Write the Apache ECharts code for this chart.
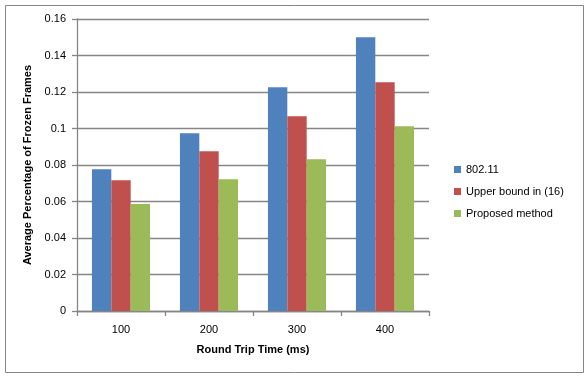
<!DOCTYPE html>
<html><head><meta charset="utf-8">
<script src="https://cdn.jsdelivr.net/npm/echarts@6/dist/echarts.min.js"></script>
<style>html,body{margin:0;padding:0;background:#fff}#c{width:588px;height:378px}</style>
</head><body><div id="c"></div>
<script>
const categories = ['100', '200', '300', '400'];
const seriesNames = ['802.11', 'Upper bound in (16)', 'Proposed method'];
const s80211 = [0.0777, 0.0974, 0.1226, 0.1500];
const sUpper = [0.0716, 0.0875, 0.1067, 0.1253];
const sProposed = [0.0586, 0.0722, 0.0831, 0.1012];
const yTicks = [0, 0.02, 0.04, 0.06, 0.08, 0.1, 0.12, 0.14, 0.16];
const colors = ['#4F81BD', '#C0504D', '#9BBB59'];
const font = 'Liberation Sans';
const gray = '#868686';
const chart = echarts.init(document.getElementById('c'));
const allVals = [s80211, sUpper, sProposed];
chart.setOption({
  animation: false,
  graphic: [{type: 'rect', shape: {x: 5.5, y: 5.5, width: 578, height: 367}, style: {fill: 'none', stroke: gray, lineWidth: 1}}],
  grid: {left: 77, right: 159, top: 19, bottom: 67},
  legend: {
    orient: 'vertical', left: 449, top: 159, itemWidth: 7, itemHeight: 7, itemGap: 11,
    icon: 'rect', data: seriesNames,
    textStyle: {fontFamily: font, fontSize: 11, color: '#000'}
  },
  xAxis: {
    type: 'category', data: categories,
    name: 'Round Trip Time (ms)', nameLocation: 'middle', nameGap: 33,
    nameTextStyle: {fontFamily: font, fontSize: 11, fontWeight: 'bold', color: '#000'},
    axisLine: {lineStyle: {color: gray, width: 1.3}},
    axisTick: {show: true, length: 5, lineStyle: {color: gray, width: 1.3}},
    axisLabel: {fontFamily: font, fontSize: 11, color: '#000', margin: 13}
  },
  yAxis: {
    type: 'value', min: yTicks[0], max: yTicks[yTicks.length - 1], interval: 0.02,
    name: 'Average Percentage of Frozen Frames', nameLocation: 'middle', nameGap: 36,
    nameTextStyle: {fontFamily: font, fontSize: 11, fontWeight: 'bold', color: '#000'},
    axisLine: {show: true, lineStyle: {color: gray, width: 1.3}},
    axisTick: {show: true, length: 5, lineStyle: {color: gray, width: 1.3}},
    axisLabel: {fontFamily: font, fontSize: 11, color: '#000', margin: 11,
      formatter: v => String(+v.toFixed(2))},
    splitLine: {lineStyle: {color: gray, width: 1.3}}
  },
  series: seriesNames.map((n, i) => ({
    name: n, type: 'bar', data: allVals[i], barGap: '0%', barCategoryGap: '34%',
    itemStyle: {color: colors[i]}
  }))
});
</script></body></html>
